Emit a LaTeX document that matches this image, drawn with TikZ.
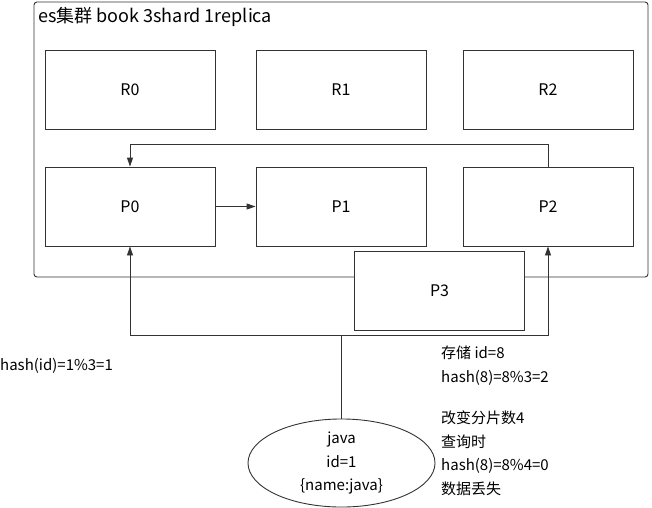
\documentclass[tikz,border=0pt]{standalone}
\usepackage{fontspec}
\setmainfont{Noto Sans CJK SC}
\usepackage{tikz}
\usetikzlibrary{arrows.meta,shapes.geometric}

\begin{document}
\begin{tikzpicture}[x=1pt,y=-1pt]
\colorlet{edge}{black!80}
\tikzset{shard/.style={draw=edge,line width=0.9pt,fill=white,minimum width=170pt,minimum height=79pt,inner sep=0pt,font=\fontsize{16}{18}\selectfont},
  arr/.style={draw=edge,line width=0.9pt,-{Triangle[length=9pt,width=6pt]}},
  note/.style={anchor=north west,align=left,inner sep=0pt,font=\fontsize{15}{23.5}\selectfont}}
\useasboundingbox (0,0) rectangle (652,507);

% the cluster, its title
\draw[edge,line width=0.9pt,rounded corners=3pt] (34,2) rectangle (648,277);
\node[anchor=west,inner sep=0pt,font=\fontsize{18}{20}\selectfont] (title) at (38,17) {es集群 book 3shard 1replica};

% replicas on top, primaries below
\foreach \i/\xx in {0/130,1/341,2/548}
{
    \node[shard] (r\i) at (\xx,89.5) {R\i};
    \node[shard] (p\i) at (\xx,206.5) {P\i};
}
\draw[arr] (p0) -- (p1);
\draw[arr] (p2.north) -- ++(0,-22) -| (p0.north);

% the fourth shard hangs over the border
\node[shard] (p3) at (439.5,290.5) {P3};

% the document and its route
\node[draw=edge,line width=0.9pt,ellipse,minimum width=187pt,minimum height=80pt,inner sep=0pt,align=center,font=\fontsize{15}{23.5}\selectfont] (java) at (341.5,463) {java\\id=1\\\{name:java\}};
\coordinate (fork) at (341.5,335);
\draw[edge,line width=0.9pt] (java.north) -- (fork);
\draw[arr] (fork) -| (p0.south);
\draw[arr] (fork) -| (p2.south);

\node[anchor=west,inner sep=0pt,font=\fontsize{15}{18}\selectfont] (hashone) at (0,366) {hash(id)=1\%3=1};
\node[note] (store) at (441,346) {存储 id=8\\hash(8)=8\%3=2};
\node[note] (lost) at (441,411) {改变分片数4\\查询时\\hash(8)=8\%4=0\\数据丢失};
\end{tikzpicture}
\end{document}
